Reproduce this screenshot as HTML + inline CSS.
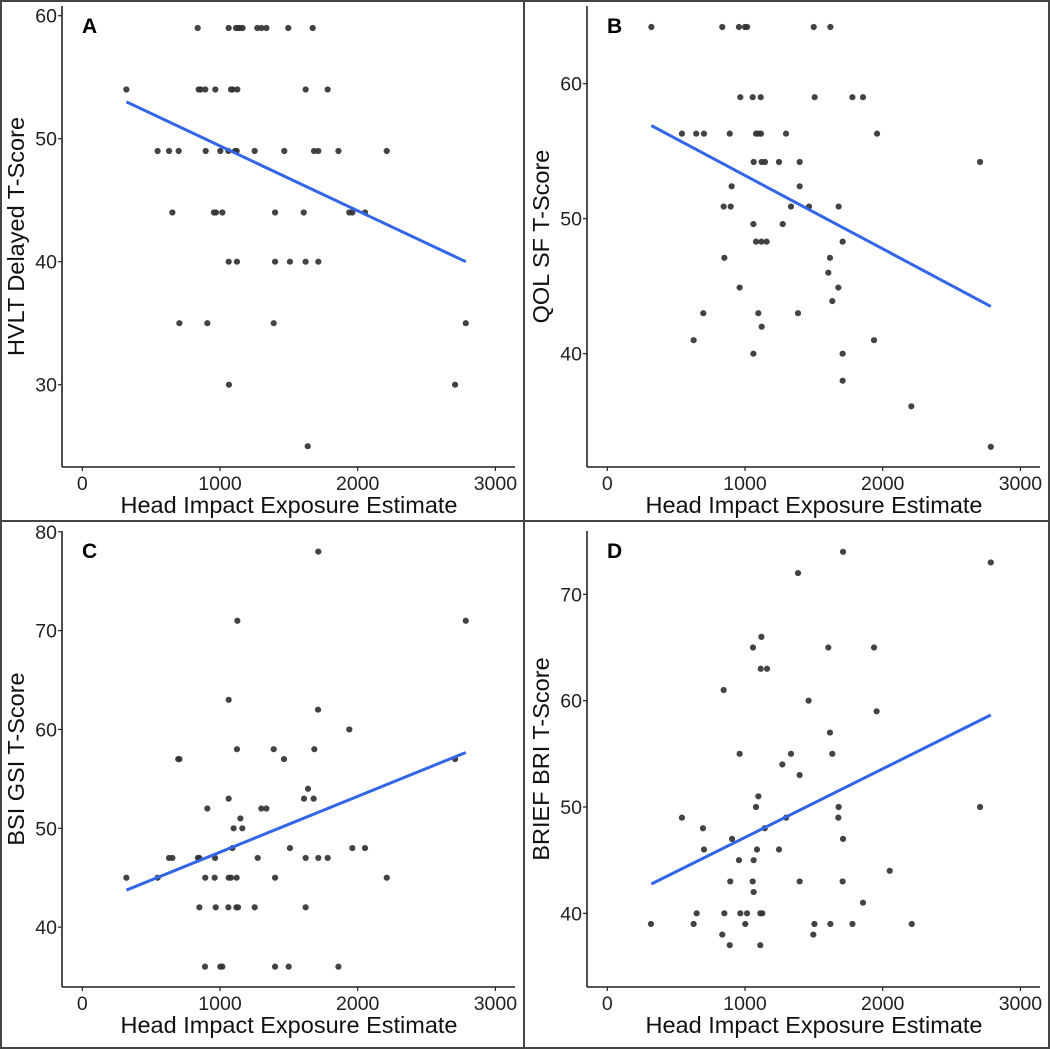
<!DOCTYPE html>
<html><head><meta charset="utf-8"><style>
html,body{margin:0;padding:0;background:#fff}
svg{display:block;font-family:"Liberation Sans",Arial,sans-serif}
</style></head><body>
<svg id="fig" width="1050" height="1049" viewBox="0 0 1050 1049" xmlns="http://www.w3.org/2000/svg">
<rect x="1" y="1" width="1048" height="1047" fill="#fff" stroke="#444" stroke-width="2"/>
<line x1="524" y1="0" x2="524" y2="1049" stroke="#444" stroke-width="2"/>
<line x1="0" y1="521" x2="1050" y2="521" stroke="#444" stroke-width="2"/>
</svg>
<script>
// ---- data ----
const xTicks = [0, 1000, 2000, 3000];
const panelLetters = ["A", "B", "C", "D"];
const yTitles = ["HVLT Delayed T-Score", "QOL SF T-Score", "BSI GSI T-Score", "BRIEF BRI T-Score"];
const yTicksA = [30, 40, 50, 60];
const yTicksB = [40, 50, 60];
const yTicksC = [40, 50, 60, 70, 80];
const yTicksD = [40, 50, 60, 70];
const fitX = [320, 2785];
const fitA = [53.0, 40.0];
const fitB = [56.9, 43.5];
const fitC = [43.74, 57.67];
const fitD = [42.76, 58.65];
const xA = [838,1063,1116,1131,1145,1164,1271,1301,1337,1496,1673, 320,845,860,893,966,1080,1092,1126,1622,1782, 547,630,700,896,1002,1061,1109,1121,1252,1467,1683,1714,1860,2211, 654,956,971,1017,1400,1608,1939,1961,2053, 1063,1123,1400,1508,1622,1714, 705,908,1390,2785, 1065,2707, 1637];
const yA = [59,59,59,59,59,59,59,59,59,59,59, 54,54,54,54,54,54,54,54,54,54, 49,49,49,49,49,49,49,49,49,49,49,49,49,49, 44,44,44,44,44,44,44,44,44, 40,40,40,40,40,40, 35,35,35,35, 30,30, 25];
const xB = [320,835,956,1000,1015,1499,1620, 966,1056,1114,1506,1780,1857, 542,646,702,889,1080,1097,1116,1298,1959, 1063,1121,1145,1247,1397,2707, 903,1397, 845,896,1334,1465,1680, 1061,1274, 1080,1119,1157,1709, 850,1617, 1605, 961,1678, 1634, 697,1097,1385, 1121, 627,1937, 1061,1709, 1709, 2208, 2785];
const yB = [64.2,64.2,64.2,64.2,64.2,64.2,64.2, 59,59,59,59,59,59, 56.3,56.3,56.3,56.3,56.3,56.3,56.3,56.3,56.3, 54.2,54.2,54.2,54.2,54.2,54.2, 52.4,52.4, 50.9,50.9,50.9,50.9,50.9, 49.6,49.6, 48.3,48.3,48.3,48.3, 47.1,47.1, 46.0, 44.9,44.9, 43.9, 43,43,43, 42, 41,41, 40,40, 38, 36.1, 33.1];
const xC = [1714, 1126,2785, 1063, 1712, 1939, 1123,1390,1685, 697,705,1465,2707, 1639, 1063,1610,1680, 908,1300,1337, 1148, 1099,1162, 1090,1508,1961,2053, 630,654,840,850,964,1274,1622,1714,1782, 320,547,893,961,1063,1080,1121,1400,2211, 850,969,1061,1119,1131,1252,1622, 891,1002,1017,1400,1499,1860];
const yC = [78, 71,71, 63, 62, 60, 58,58,58, 57,57,57,57, 54, 53,53,53, 52,52,52, 51, 50,50, 48,48,48,48, 47,47,47,47,47,47,47,47,47, 45,45,45,45,45,45,45,45,45, 42,42,42,42,42,42,42, 36,36,36,36,36,36];
const xD = [1712, 2785, 1385, 1119, 1058,1605,1937, 1114,1160, 845, 1462, 1956, 1617, 961,1334,1634, 1271, 1397, 1097, 1080,1680,2707, 542,1678,1298, 695,1143, 906,1712, 702,1087,1247, 956,1063, 2051, 893,1056,1397,1709, 1063, 1857, 649,850,966,1015,1111,1126, 317,627,1002,1504,1620,1780,2211, 835,1496, 889,1111];
const yD = [74, 73, 72, 66, 65,65,65, 63,63, 61, 60, 59, 57, 55,55,55, 54, 53, 51, 50,50,50, 49,49,49, 48,48, 47,47, 46,46,46, 45,45, 44, 43,43,43,43, 42, 41, 40,40,40,40,40,40, 39,39,39,39,39,39,39, 38,38, 37,37];

// ---- layout ----
const NS = "http://www.w3.org/2000/svg";
const svg = document.getElementById("fig");
function mk(tag, attrs, parent) {
  const e = document.createElementNS(NS, tag);
  for (const k in attrs) e.setAttribute(k, attrs[k]);
  (parent || svg).appendChild(e);
  return e;
}
const panels = [
  {ox:0, top:6, bot:467, ref:50, refY:138.7, k:12.3, yt:yTicksA, xs:xA, ys:yA, fit:fitA},
  {ox:525, top:6, bot:467, ref:50, refY:218.7, k:13.5, yt:yTicksB, xs:xB, ys:yB, fit:fitB},
  {ox:0, top:531, bot:987, ref:50, refY:828.3, k:9.883, yt:yTicksC, xs:xC, ys:yC, fit:fitC},
  {ox:525, top:531, bot:987, ref:50, refY:807.0, k:10.633, yt:yTicksD, xs:xD, ys:yD, fit:fitD}
];
panels.forEach((p, i) => {
  const xScale = v => p.ox + 82.3 + v * 0.1377;
  const yScale = v => p.refY - (v - p.ref) * p.k;
  const g = mk("g", {});
  
  
  const axL = p.ox + 62, axR = p.ox + 515;
  const ya = mk("line", {x1:axL, y1:p.top, x2:axL, y2:p.bot, stroke:"#222", "stroke-width":1.6}, g);
  
  
  const xa = mk("line", {x1:axL, y1:p.bot, x2:axR, y2:p.bot, stroke:"#222", "stroke-width":1.6}, g);
  
  
  p.yt.forEach(t => {
    const y = yScale(t);
    const tk = mk("line", {x1:axL-4, y1:y, x2:axL, y2:y, stroke:"#222", "stroke-width":1.2}, g);
    
    
    const tl = mk("text", {x:axL-5, y:y+7, "text-anchor":"end", "font-size":19.5, fill:"#222"}, g);
    tl.textContent = t;
    
    
  });
  xTicks.forEach(t => {
    const x = xScale(t);
    const tk = mk("line", {x1:x, y1:p.bot, x2:x, y2:p.bot+4, stroke:"#222", "stroke-width":1.2}, g);
    
    
    const tl = mk("text", {x:x, y:p.bot+23, "text-anchor":"middle", "font-size":19.5, fill:"#222"}, g);
    tl.textContent = t;
    
    
  });
  const xt = mk("text", {x:p.ox+289, y:p.bot+46, "text-anchor":"middle", "font-size":23.5, fill:"#111"}, g);
  xt.textContent = "Head Impact Exposure Estimate";
  
  
  const cy = (p.top + p.bot) / 2;
  const yt = mk("text", {x:0, y:0, "text-anchor":"middle", "font-size":23.5, fill:"#111", transform:"translate(" + (p.ox+24) + "," + cy + ") rotate(-90)"}, g);
  yt.textContent = yTitles[i];
  
  
  const lt = mk("text", {x:p.ox+82, y:p.top+27, "font-size":21, "font-weight":"bold", fill:"#000"}, g);
  lt.textContent = panelLetters[i];
  
  
  p.xs.forEach((xv, j) => {
    const c = mk("circle", {cx:xScale(xv), cy:yScale(p.ys[j]), r:3.1, fill:"#333", "fill-opacity":0.92}, g);
    
    
  });
  const fl = mk("line", {x1:xScale(fitX[0]), y1:yScale(p.fit[0]), x2:xScale(fitX[1]), y2:yScale(p.fit[1]), stroke:"#3366e6", "stroke-width":3}, g);
  
  
});
</script>
</body></html>
